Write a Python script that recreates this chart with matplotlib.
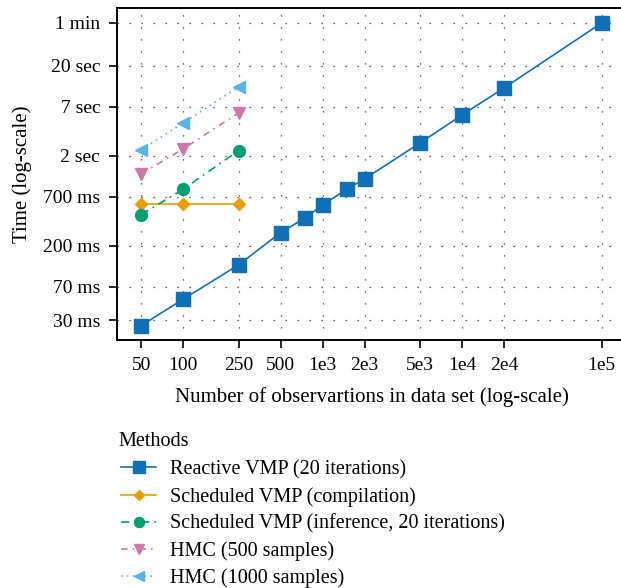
import numpy as np
import matplotlib
matplotlib.use("Agg")
import matplotlib.pyplot as plt

plt.rcParams["font.family"] = ["Liberation Serif", "DejaVu Serif"]

# data set sizes
reactive_n = [50, 100, 250, 500, 750, 1000, 1500, 2000, 5000, 10000, 20000, 100000]
reactive_t = [0.026, 0.051, 0.123, 0.281, 0.409, 0.570, 0.859, 1.11, 2.79, 5.70, 11.4, 60.0]

small_n = [50, 100, 250]
compile_t = [0.585, 0.585, 0.585]
infer_t = [0.445, 0.851, 2.29]
hmc500_t = [1.26, 2.39, 6.0]
hmc1000_t = [2.33, 4.65, 11.7]

x_ticks = [50, 100, 250, 500, 1000, 2000, 5000, 10000, 20000, 100000]
x_labels = ["50", "100", "250", "500", "1e3", "2e3", "5e3", "1e4", "2e4", "1e5"]
y_ticks = [0.03, 0.07, 0.2, 0.7, 2, 7, 20, 60]
y_labels = ["30 ms", "70 ms", "200 ms", "700 ms", "2 sec", "7 sec", "20 sec", "1 min"]

fig = plt.figure(figsize=(6.21, 5.88), dpi=100)
ax = fig.add_axes([0.1884, 0.4218, 0.82, 0.5646])

ax.plot(reactive_n, reactive_t, "-", color="#1170B5", marker="s", ms=10,
        lw=1.2, label="Reactive VMP (20 iterations)", zorder=5)
ax.plot(small_n, compile_t, "-", color="#E69F00", marker="D", ms=6.5,
        lw=1.2, label="Scheduled VMP (compilation)", zorder=4)
ax.plot(small_n, infer_t, color="#009E73", marker="o", ms=8.5,
        lw=1.2, ls=(0, (5, 3, 1, 3)), label="Scheduled VMP (inference, 20 iterations)", zorder=4)
ax.plot(small_n, hmc500_t, color="#CC79A7", marker="v", ms=9,
        lw=1.2, ls=(0, (4, 3, 1, 3)), label="HMC (500 samples)", zorder=4)
ax.plot(small_n, hmc1000_t, color="#56B4E9", marker="<", ms=9,
        lw=1.2, ls=(0, (1, 2.5)), label="HMC (1000 samples)", zorder=4)

ax.set_xscale("log")
ax.set_yscale("log")
ax.set_xlim(33.6, 1.5e5)
ax.set_ylim(0.018, 88)

ax.set_xticks(x_ticks)
ax.set_xticklabels(x_labels)
ax.set_yticks(y_ticks)
ax.set_yticklabels(y_labels)
ax.minorticks_off()
ax.tick_params(direction="out", length=6, width=1.2, labelsize=14, pad=6)

ax.grid(True, which="major", color="#333333", lw=0.9, ls=(0, (1, 8.6)))

for s in ["left", "top", "bottom"]:
    ax.spines[s].set_linewidth(1.4)
ax.spines["right"].set_visible(False)

ax.set_xlabel("Number of observartions in data set (log-scale)", fontsize=15, labelpad=10)
ax.set_ylabel("Time (log-scale)", fontsize=15, labelpad=8)

# legend title drawn separately so the gap above the entries can be set
fig.text(118 / 621, 1 - 441 / 588, "Methods", fontsize=14.5, va="center", ha="left")
handles, labels = ax.get_legend_handles_labels()
leg = fig.legend(handles, labels, loc="upper left", bbox_to_anchor=(0.166, 0.2483),
                 frameon=False, fontsize=14.5,
                 handlelength=1.75, handletextpad=0.65,
                 labelspacing=0.375, markerscale=0.85)

fig.savefig("out.png", dpi=100)
